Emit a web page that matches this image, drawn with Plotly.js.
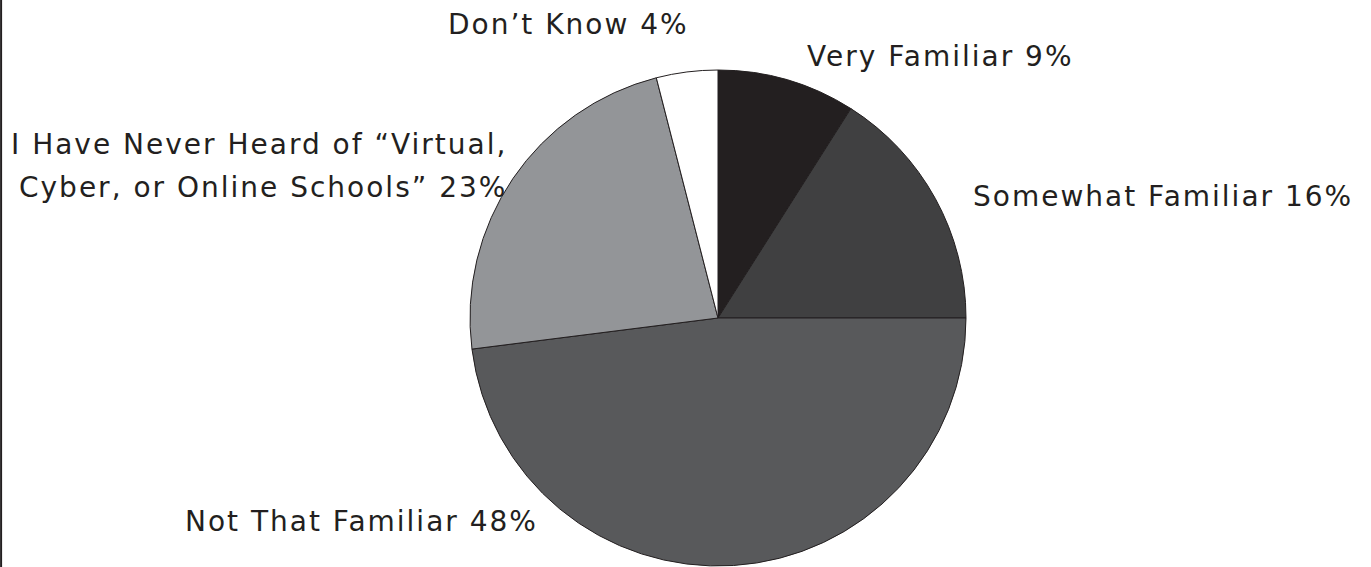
<!DOCTYPE html>
<html><head><meta charset="utf-8">
<script src="https://cdn.plot.ly/plotly-3.0.1.min.js"></script>
<style>html,body{margin:0;padding:0;background:#fff}#c{width:1371px;height:567px}
.annotation-text{letter-spacing:2px}</style>
</head><body><div id="c"></div>
<script>
const labels = ["Very Familiar", "Somewhat Familiar", "Not That Familiar", "I Have Never Heard of “Virtual,<br>Cyber, or Online Schools”", "Don’t Know"];
const values = [9, 16, 48, 23, 4];
const colors = ["#231f20", "#404041", "#58595b", "#939598", "#ffffff"];

const W = 1371, H = 567;
const cx = 718, cy = 318, r = 248;
const font = {family: "'DejaVu Sans', sans-serif", size: 28, color: "#231f20"};
const lineGap = 43;

// label placements (pixel positions converted to paper)
const labelPos = [
  {x: 805, y: 56, xanchor: "left"},
  {x: 971, y: 197, xanchor: "left"},
  {x: 540, y: 521, xanchor: "right"},
  {x: 509, y: 144, xanchor: "right"},
  {x: 691, y: 24, xanchor: "right"}
];

const annotations = [];
labels.forEach((l, i) => {
  const lines = (l + " " + values[i] + "%").split("<br>");
  lines.forEach((t, k) => {
    annotations.push({
      text: t,
      x: labelPos[i].x / W, y: 1 - (labelPos[i].y + k * lineGap) / H,
      xref: "paper", yref: "paper",
      xanchor: labelPos[i].xanchor, yanchor: "middle",
      showarrow: false, font: font
    });
  });
});

Plotly.newPlot("c", [{
  type: "pie",
  labels: labels, values: values,
  sort: false, direction: "clockwise", rotation: 0,
  marker: {colors: colors, line: {color: "#231f20", width: 1}},
  textinfo: "none", hoverinfo: "label+percent",
  domain: {x: [(cx - r) / W, (cx + r) / W], y: [(H - cy - r) / H, (H - cy + r) / H]}
}], {
  width: W, height: H,
  margin: {l: 0, r: 0, t: 0, b: 0},
  showlegend: false,
  paper_bgcolor: "#fff",
  annotations: annotations,
  shapes: [{type: "line", xref: "paper", yref: "paper", x0: 0.0008, x1: 0.0008, y0: 0, y1: 1, line: {color: "#231f20", width: 2}}]
}, {displayModeBar: false, staticPlot: true});
</script></body></html>
